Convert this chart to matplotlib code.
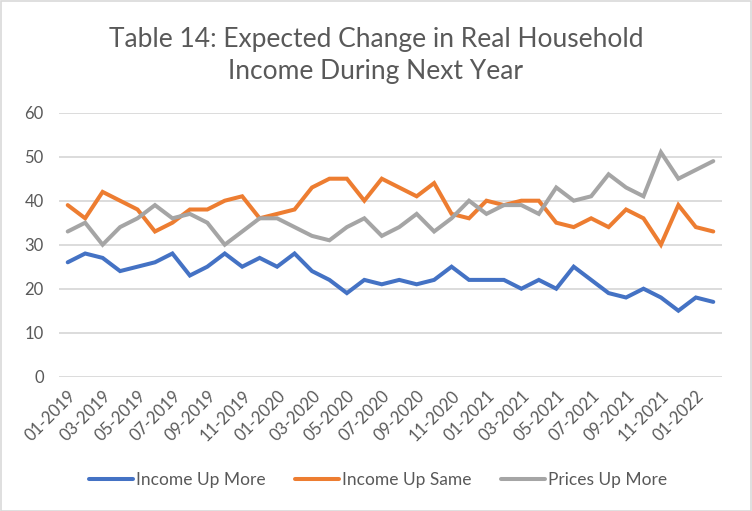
import numpy as np
import matplotlib.pyplot as plt
from matplotlib.patches import Rectangle

plt.rcParams['font.family'] = ['Lato', 'DejaVu Sans']

# monthly survey, 01-2019 .. 02-2022
months = [f"{m:02d}-{y}" for y in (2019, 2020, 2021) for m in range(1, 13)] + ["01-2022", "02-2022"]

income_up_more = [26, 28, 27, 24, 25, 26, 28, 23, 25, 28, 25, 27, 25, 28, 24, 22, 19, 22, 21,
                  22, 21, 22, 25, 22, 22, 22, 20, 22, 20, 25, 22, 19, 18, 20, 18, 15, 18, 17]
income_up_same = [39, 36, 42, 40, 38, 33, 35, 38, 38, 40, 41, 36, 37, 38, 43, 45, 45, 40, 45,
                  43, 41, 44, 37, 36, 40, 39, 40, 40, 35, 34, 36, 34, 38, 36, 30, 39, 34, 33]
prices_up_more = [33, 35, 30, 34, 36, 39, 36, 37, 35, 30, 33, 36, 36, 34, 32, 31, 34, 36, 32,
                  34, 37, 33, 36, 40, 37, 39, 39, 37, 43, 40, 41, 46, 43, 41, 51, 45, 47, 49]

series = [
    ("Income Up More", income_up_more, "#4472C4"),
    ("Income Up Same", income_up_same, "#ED7D31"),
    ("Prices Up More", prices_up_more, "#A5A5A5"),
]

txt = "#595959"

fig = plt.figure(figsize=(7.52, 5.11), dpi=100)
ax = fig.add_axes([59 / 752, 134.3 / 511, 663 / 752, 264 / 511])

x = np.arange(len(months))
for name, vals, col in series:
    ax.plot(x, vals, color=col, lw=2.9, label=name, solid_joinstyle="miter", solid_capstyle="round")

ax.set_ylim(0, 60)
ax.set_yticks(range(0, 61, 10))
ax.set_xlim(-0.5, len(months) - 0.5)
ax.set_xticks(x[::2])
ax.set_xticklabels(months[::2], rotation=45, ha="right", rotation_mode="anchor")
ax.tick_params(axis="both", length=0, colors=txt, labelsize=12)
ax.tick_params(axis="x", pad=8)
ax.tick_params(axis="y", pad=11)
ax.grid(axis="y", color="#D9D9D9", lw=1.3)
ax.set_axisbelow(True)
for s in ax.spines.values():
    s.set_visible(False)

fig.text(0.5, 1 - 55 / 511, "Table 14: Expected Change in Real Household\nIncome During Next Year",
         ha="center", va="center", fontsize=19, color=txt, linespacing=1.35)

leg = fig.legend(loc="center", bbox_to_anchor=(0.503, 1 - 480 / 511), ncol=3, frameon=False,
                 fontsize=12.5, handlelength=2.5, columnspacing=1.7, handletextpad=0.2)
for t in leg.get_texts():
    t.set_color(txt)

fig.patches.append(Rectangle((0.5 / 752, 0.5 / 511), 750 / 752, 509 / 511, transform=fig.transFigure,
                             fill=False, edgecolor="#D9D9D9", lw=1.2))

fig.savefig("out.png", dpi=100)
